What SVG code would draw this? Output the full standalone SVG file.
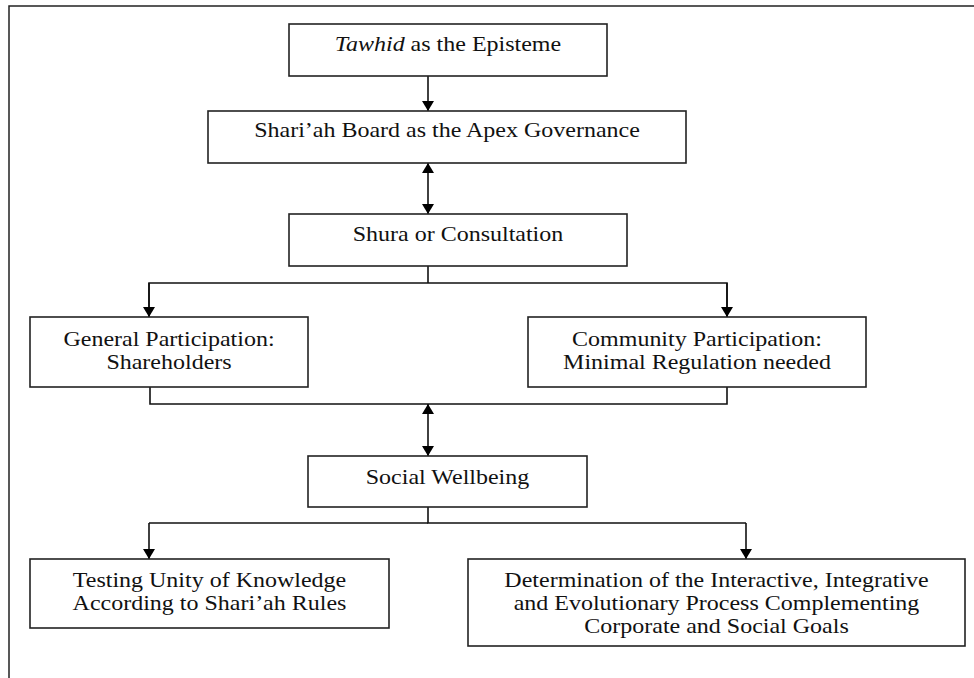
<svg xmlns="http://www.w3.org/2000/svg" width="974" height="678" viewBox="0 0 974 678">
<style>
.box{fill:#fff;stroke:#222;stroke-width:1.6}
.ln{fill:none;stroke:#111;stroke-width:1.6}
.frame{fill:none;stroke:#222;stroke-width:1.5}
text{font-family:"Liberation Serif","Times New Roman",serif;font-size:20px;fill:#111;text-anchor:middle}
</style>
<defs>
<marker id="ah" viewBox="0 0 10 12" refX="10" refY="6" markerWidth="10" markerHeight="12" markerUnits="userSpaceOnUse" orient="auto-start-reverse">
<path d="M0,0 L10,6 L0,12 Z" fill="#000"/>
</marker>
</defs>
<rect width="974" height="678" fill="#fff"/>
<path class="frame" d="M9,678 V6 H974"/>
<g id="connectors">
<line class="ln" x1="428" y1="76" x2="428" y2="111" marker-end="url(#ah)"/>
<line class="ln" x1="428" y1="163" x2="428" y2="214" marker-start="url(#ah)" marker-end="url(#ah)"/>
<path class="ln" d="M428,266 V283"/>
<path class="ln" d="M149,317 V283 H727 V317" />
<line class="ln" x1="149" y1="283" x2="149" y2="317" marker-end="url(#ah)"/>
<line class="ln" x1="727" y1="283" x2="727" y2="317" marker-end="url(#ah)"/>
<path class="ln" d="M150,387 V404 H727 V387"/>
<line class="ln" x1="428" y1="404" x2="428" y2="456" marker-start="url(#ah)" marker-end="url(#ah)"/>
<path class="ln" d="M428,507 V523 H746"/>
<path class="ln" d="M149,523 H428"/>
<line class="ln" x1="149" y1="523" x2="149" y2="559" marker-end="url(#ah)"/>
<line class="ln" x1="746" y1="523" x2="746" y2="559" marker-end="url(#ah)"/>
</g>
<g id="tawhid">
<rect class="box" x="289" y="24" width="318" height="52"/>
<text transform="translate(448 51) scale(1.2 1)"><tspan font-style="italic">Tawhid</tspan> as the Episteme</text>
</g>
<g id="shariah-board">
<rect class="box" x="208" y="111" width="478" height="52"/>
<text transform="translate(447 137) scale(1.2 1)">Shari’ah Board as the Apex Governance</text>
</g>
<g id="shura">
<rect class="box" x="289" y="214" width="338" height="52"/>
<text transform="translate(458 241) scale(1.2 1)">Shura or Consultation</text>
</g>
<g id="general-participation">
<rect class="box" x="30" y="317" width="278" height="70"/>
<text transform="translate(169 346) scale(1.2 1)">General Participation:</text>
<text transform="translate(169 369) scale(1.2 1)">Shareholders</text>
</g>
<g id="community-participation">
<rect class="box" x="528" y="317" width="338" height="70"/>
<text transform="translate(697 346) scale(1.2 1)">Community Participation:</text>
<text transform="translate(697 369) scale(1.2 1)">Minimal Regulation needed</text>
</g>
<g id="social-wellbeing">
<rect class="box" x="308" y="456" width="279" height="51"/>
<text transform="translate(447.5 484) scale(1.2 1)">Social Wellbeing</text>
</g>
<g id="testing-unity">
<rect class="box" x="30" y="559" width="359" height="69"/>
<text transform="translate(209.5 587) scale(1.2 1)">Testing Unity of Knowledge</text>
<text transform="translate(209.5 610) scale(1.2 1)">According to Shari’ah Rules</text>
</g>
<g id="determination">
<rect class="box" x="468" y="559" width="497" height="87"/>
<text transform="translate(716.5 587) scale(1.2 1)">Determination of the Interactive, Integrative</text>
<text transform="translate(716.5 610) scale(1.2 1)">and Evolutionary Process Complementing</text>
<text transform="translate(716.5 633) scale(1.2 1)">Corporate and Social Goals</text>
</g>
</svg>
